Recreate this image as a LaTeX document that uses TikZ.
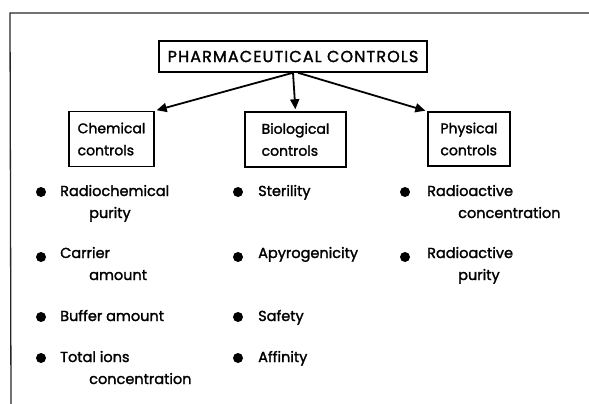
\documentclass[tikz,border=0pt]{standalone}
\usepackage{fontspec}
\setmainfont{Poppins}[FakeBold=1.6]
\usetikzlibrary{arrows.meta}
\tikzset{
  frameline/.style={line width=1.3pt, black!85},
  catbox/.style={draw, line width=1.5pt, align=left, inner sep=0pt, font=\fontsize{14}{22}\selectfont},
  titlebox/.style={draw, line width=1.5pt, inner sep=0pt, minimum width=268pt, minimum height=31pt, font=\fontsize{16}{18}\selectfont\addfontfeatures{LetterSpace=7}},
  bul/.style={circle, fill=black, inner sep=0pt, minimum size=10pt},
  itm/.style={anchor=base west, inner sep=0pt, font=\fontsize{14.5}{16}\selectfont},
  conn/.style={line width=1.8pt, -{Triangle[length=10pt,width=9pt]}, shorten >=2pt}
}
\begin{document}
\begin{tikzpicture}[x=1pt,y=-1pt]
\useasboundingbox (0,0) rectangle (589,404);
% frame
\coordinate (fa) at (10,13);
\coordinate (fb) at (589,13);
\coordinate (fc) at (11,404);
\draw[frameline] (fb) -- (fa) -- (fc);
% title
\node[titlebox] (title) at (293,56.5) {PHARMACEUTICAL CONTROLS};
% category boxes
\node[catbox, minimum width=85pt, minimum height=55pt] (chem) at (111.5,139) {Chemical\\controls};
\node[catbox, minimum width=101pt, minimum height=55pt] (bio) at (295.5,139.5) {Biological\\controls};
\node[catbox, minimum width=82pt, minimum height=54pt] (phys) at (469,139) {Physical\\controls};
% connectors
\draw[conn] (title.south) -- (chem.north east);
\draw[conn] (title.south) -- (bio.north);
\draw[conn] ([xshift=5pt]title.south) -- (phys.north west);
% column 1
\node[bul] (b11) at (41,192) {};
\node[itm] (t11a) at (60,196) {Radiochemical};
\node[itm] (t11b) at (89,218) {purity};
\node[bul] (b12) at (41,257) {};
\node[itm] (t12a) at (60,258) {Carrier};
\node[itm] (t12b) at (89,280) {amount};
\node[bul] (b13) at (41,317) {};
\node[itm] (t13a) at (60,321) {Buffer amount};
\node[bul] (b14) at (41,358) {};
\node[itm] (t14a) at (60,362) {Total ions};
\node[itm] (t14b) at (89,384) {concentration};
% column 2
\node[bul] (b21) at (238,192) {};
\node[itm] (t21a) at (258,196) {Sterility};
\node[bul] (b22) at (238,257) {};
\node[itm] (t22a) at (258,258) {Apyrogenicity};
\node[bul] (b23) at (238,317) {};
\node[itm] (t23a) at (258,321) {Safety};
\node[bul] (b24) at (238,358) {};
\node[itm] (t24a) at (258,362) {Affinity};
% column 3
\node[bul] (b31) at (405,192) {};
\node[itm] (t31a) at (427,196) {Radioactive};
\node[itm] (t31b) at (458,218) {concentration};
\node[bul] (b32) at (405,257) {};
\node[itm] (t32a) at (427,258) {Radioactive};
\node[itm] (t32b) at (458,280) {purity};
\end{tikzpicture}
\end{document}
